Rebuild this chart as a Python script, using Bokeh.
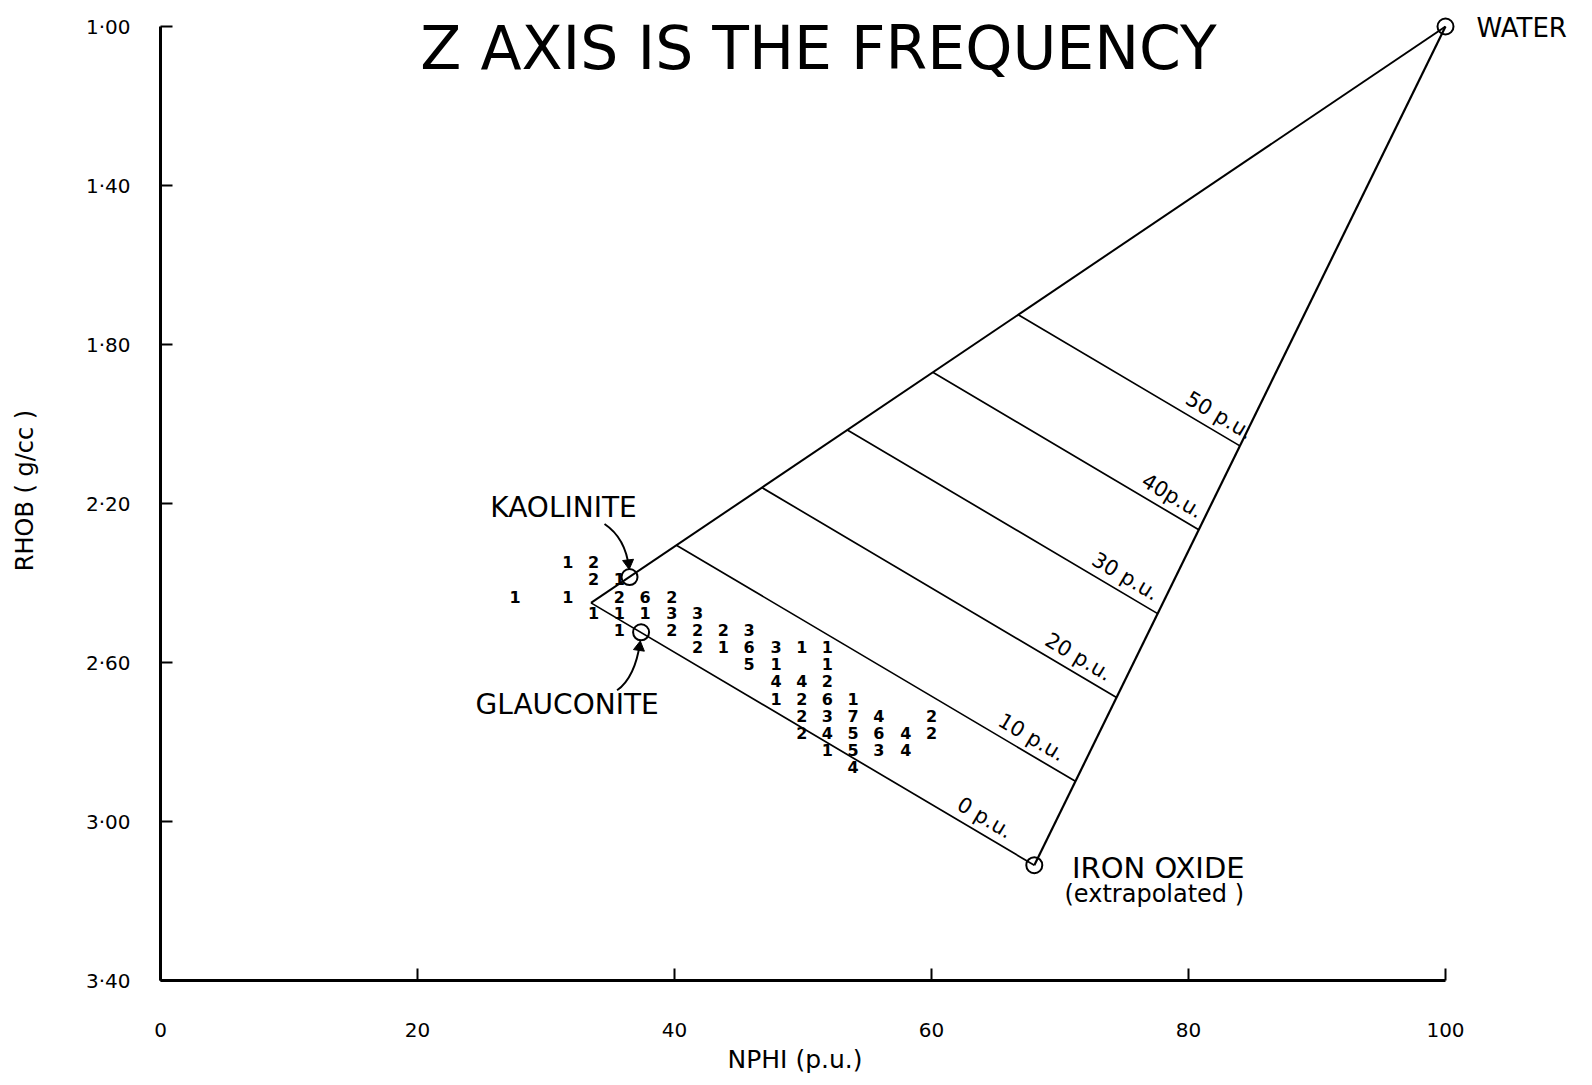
import math
from bokeh.plotting import figure
from bokeh.models import Range1d, FixedTicker, CustomJSTickFormatter, Label, Title
from bokeh.core.properties import value
from bokeh.embed import file_html
from bokeh.resources import INLINE

# ---------------- data ----------------
title_text = "Z AXIS IS THE FREQUENCY"
x_title = "NPHI (p.u.)"
y_title = "RHOB ( g/cc )"

x_ticks = [0, 20, 40, 60, 80, 100]
y_ticks = [1.00, 1.40, 1.80, 2.20, 2.60, 3.00, 3.40]

# end members: water, kaolinite, glauconite, iron oxide
endmember_names = ["WATER", "KAOLINITE", "GLAUCONITE", "IRON OXIDE"]
endmember_nphi = [100.0, 36.5, 37.4, 68.0]
endmember_rhob = [1.00, 2.385, 2.524, 3.11]

# left vertex of the triangle (matrix point)
apex_nphi = 33.5
apex_rhob = 2.45

porosity_levels = [0, 10, 20, 30, 40, 50]
porosity_labels = ["0 p.u.", "10 p.u.", "20 p.u.", "30 p.u.", "40p.u.", "50 p.u."]

# frequency grid (z axis): bin centres and counts
nphi_bins = [27.6, 29.6, 31.7, 33.7, 35.7, 37.7, 39.8, 41.8, 43.8, 45.8,
             47.9, 49.9, 51.9, 53.9, 55.9, 58.0, 60.0]
rhob_bins = [2.347, 2.390, 2.434, 2.475, 2.517, 2.560, 2.605, 2.647,
             2.692, 2.734, 2.777, 2.821, 2.863]
freq_col = [2, 3, 3, 4, 0, 2, 4, 5, 6, 3, 4, 5, 6, 7, 4, 6, 7, 8, 9,
            7, 8, 9, 10, 11, 12, 9, 10, 12, 10, 11, 12, 10, 11, 12, 13,
            11, 12, 13, 14, 16, 11, 12, 13, 14, 15, 16, 12, 13, 14, 15, 13]
freq_row = [0, 0, 1, 1, 2, 2, 2, 2, 2, 3, 3, 3, 3, 3, 4, 4, 4, 4, 4,
            5, 5, 5, 5, 5, 5, 6, 6, 6, 7, 7, 7, 8, 8, 8, 8,
            9, 9, 9, 9, 9, 10, 10, 10, 10, 10, 10, 11, 11, 11, 11, 12]
freq_count = [1, 2, 2, 1, 1, 1, 2, 6, 2, 1, 1, 1, 3, 3, 1, 2, 2, 2, 3,
              2, 1, 6, 3, 1, 1, 5, 1, 1, 4, 4, 2, 1, 2, 6, 1,
              2, 3, 7, 4, 2, 2, 4, 5, 6, 4, 2, 1, 5, 3, 4, 4]

# ---------------- layout ----------------
W, H = 1584, 1085
LEFT, BOTTOM = 160, 105
PX_X, PX_Y = 12.85, 397.5          # pixels per p.u. and per g/cc
x_end = (W - LEFT) / PX_X
y_top = 3.40 - (H - BOTTOM) / PX_Y
FONT = "DejaVu Sans"

p = figure(width=W, height=H, x_range=Range1d(0, x_end), y_range=Range1d(3.40, y_top),
           output_backend="svg", toolbar_location=None, title=None,
           min_border_left=LEFT, min_border_right=0, min_border_top=0,
           min_border_bottom=BOTTOM)
p.outline_line_color = None
p.xgrid.visible = False
p.ygrid.visible = False
p.background_fill_color = "white"
p.border_fill_color = "white"

for ax in (p.xaxis, p.yaxis):
    ax.axis_line_width = 3
    ax.axis_line_color = "black"
    ax.major_tick_in = 12
    ax.major_tick_out = 0
    ax.major_tick_line_width = 2
    ax.minor_tick_line_color = None
    ax.major_label_text_font = FONT
    ax.major_label_text_font_size = "20px"
    ax.major_label_text_color = "black"

p.xaxis.ticker = FixedTicker(ticks=x_ticks)
p.xaxis.bounds = (0, 100)
p.xaxis.major_label_standoff = 42

p.yaxis.ticker = FixedTicker(ticks=y_ticks)
p.yaxis.bounds = (1.0, 3.4)
p.yaxis.formatter = CustomJSTickFormatter(code="return tick.toFixed(2).replace('.', '\u00b7');")
p.yaxis.major_label_standoff = 30
p.yaxis.axis_label = y_title
p.yaxis.axis_label_text_font = FONT
p.yaxis.axis_label_text_font_size = "24px"
p.yaxis.axis_label_text_font_style = "normal"
p.yaxis.axis_label_text_color = "black"
p.yaxis.axis_label_standoff = 44

# x-axis title, placed under the tick labels and centred near NPHI = 49
p.add_layout(Title(text=x_title, align="left", offset=567, standoff=6,
                   text_font=FONT, text_font_size="25px", text_font_style="normal",
                   text_color="black"), "below")

# ---------------- triangle and porosity lines ----------------
wx, wy = endmember_nphi[0], endmember_rhob[0]
ix, iy = endmember_nphi[3], endmember_rhob[3]

p.line([apex_nphi, wx], [apex_rhob, wy], line_color="black", line_width=2)
p.line([ix, wx], [iy, wy], line_color="black", line_width=2.2)

seg_x, seg_y = [], []
lab_x, lab_y = [], []
for phi in porosity_levels:
    f = phi / 100.0
    lx = (1 - f) * apex_nphi + f * wx
    ly = (1 - f) * apex_rhob + f * wy
    rx = (1 - f) * ix + f * wx
    ry = (1 - f) * iy + f * wy
    seg_x.append([lx, rx])
    seg_y.append([ly, ry])
    lab_x.append(lx + 0.87 * (rx - lx))
    lab_y.append(ly + 0.87 * (ry - ly))
p.multi_line(seg_x, seg_y, line_color="black", line_width=1.7)

ang = -math.atan2((iy - apex_rhob) * PX_Y, (ix - apex_nphi) * PX_X)
p.text(lab_x, lab_y, text=porosity_labels, angle=ang, text_align="center",
       text_baseline="bottom", x_offset=2, y_offset=-3,
       text_font=value(FONT), text_font_size="21px", text_color="black")

# end-member circles
p.scatter(endmember_nphi, endmember_rhob, marker="circle", size=16,
          fill_color=None, line_color="black", line_width=2)

# end-member labels (offsets in screen pixels from the circles)
p.text([wx], [wy], text=["WATER"], x_offset=31, y_offset=1, text_align="left",
       text_baseline="middle", text_font=value(FONT), text_font_size="26px")
p.text([endmember_nphi[1]], [endmember_rhob[1]], text=["KAOLINITE"], x_offset=-66, y_offset=-70,
       text_align="center", text_baseline="middle", text_font=value(FONT), text_font_size="28px")
p.text([endmember_nphi[2]], [endmember_rhob[2]], text=["GLAUCONITE"], x_offset=-74, y_offset=72,
       text_align="center", text_baseline="middle", text_font=value(FONT), text_font_size="28px")
p.text([ix], [iy], text=["IRON OXIDE"], x_offset=124, y_offset=3,
       text_align="center", text_baseline="middle", text_font=value(FONT), text_font_size="29px")
p.text([ix], [iy], text=["(extrapolated )"], x_offset=120, y_offset=29,
       text_align="center", text_baseline="middle", text_font=value(FONT), text_font_size="24px")

# curved arrows pointing at kaolinite and glauconite (screen-pixel offsets)
def arrow(px, py, start, ctrl, tip):
    x0, y0 = px + start[0] / PX_X, py + start[1] / PX_Y
    cx, cy = px + ctrl[0] / PX_X, py + ctrl[1] / PX_Y
    x1, y1 = px + tip[0] / PX_X, py + tip[1] / PX_Y
    p.quadratic(x0=[x0], y0=[y0], x1=[x1], y1=[y1], cx=[cx], cy=[cy],
                line_color="black", line_width=2)
    dx, dy = tip[0] - ctrl[0], tip[1] - ctrl[1]
    n = math.hypot(dx, dy)
    ux, uy = dx / n, dy / n
    hx = px + (tip[0] - 5 * ux) / PX_X
    hy = py + (tip[1] - 5 * uy) / PX_Y
    a = math.atan2(-uy, ux) - math.pi / 2
    p.scatter([hx], [hy], marker="triangle", angle=a, size=11,
              fill_color="black", line_color="black")

arrow(endmember_nphi[1], endmember_rhob[1], (-25, -53), (-4, -39), (-0.5, -9))
arrow(endmember_nphi[2], endmember_rhob[2], (-24, 58), (-6, 45), (-1, 10))

# frequency numbers
fx = [nphi_bins[c] for c in freq_col]
fy = [rhob_bins[r] for r in freq_row]
p.text(fx, fy, text=[str(c) for c in freq_count], text_align="center",
       text_baseline="middle", text_font=value(FONT), text_font_size="16px",
       text_font_style="bold", text_color="black")

# chart heading
p.add_layout(Label(x=51.2, y=y_top + 47 / PX_Y, text=title_text, text_align="center",
                   text_baseline="alphabetic", text_font=FONT, text_font_size="60px",
                   text_color="black"))

with open("out.html", "w", encoding="utf-8") as fh:
    fh.write(file_html(p, INLINE))
